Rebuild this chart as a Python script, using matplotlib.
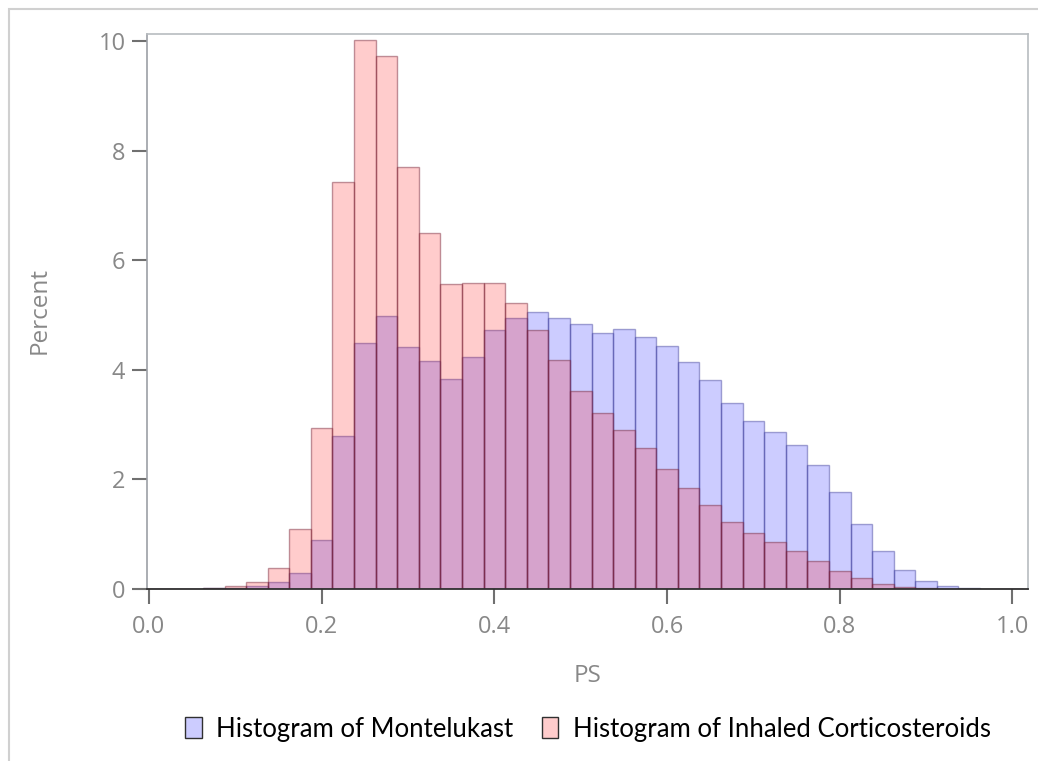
import matplotlib
matplotlib.use('Agg')
import matplotlib.pyplot as plt
from matplotlib.patches import Patch, Rectangle
import numpy as np

# bins of width 0.025, centred at 0, 0.025, ..., 1.0
bin_width = 0.025
bin_centers = np.arange(41) * bin_width

# percent per bin
montelukast = [0, 0, 0.005, 0.01, 0.02, 0.05, 0.12, 0.30, 0.89, 2.79,
               4.49, 4.99, 4.42, 4.16, 3.84, 4.23, 4.72, 4.95, 5.05, 4.95,
               4.83, 4.68, 4.74, 4.60, 4.43, 4.15, 3.82, 3.40, 3.07, 2.87,
               2.63, 2.27, 1.77, 1.18, 0.69, 0.35, 0.15, 0.05, 0.015, 0.005,
               0]
inhaled_cs = [0, 0, 0, 0.02, 0.055, 0.13, 0.39, 1.10, 2.93, 7.43,
              10.03, 9.73, 7.71, 6.50, 5.56, 5.58, 5.58, 5.22, 4.73, 4.18,
              3.62, 3.21, 2.90, 2.58, 2.19, 1.85, 1.53, 1.23, 1.02, 0.86,
              0.69, 0.51, 0.33, 0.20, 0.10, 0.04, 0.015, 0.005, 0, 0,
              0]

x_ticks = [0.0, 0.2, 0.4, 0.6, 0.8, 1.0]
x_ticklabels = ['0.0', '0.2', '0.4', '0.6', '0.8', '1.0']
y_ticks = [0, 2, 4, 6, 8, 10]
labels = ['Histogram of Montelukast', 'Histogram of Inhaled Corticosteroids']

plt.rcParams['font.family'] = ['Open Sans', 'DejaVu Sans']

W, H = 1038, 761
fig = plt.figure(figsize=(W / 100, H / 100), dpi=100)
ax = fig.add_axes([147 / W, 1 - 589 / H, (1028 - 147) / W, (589 - 33.5) / H])

blue_face = (0, 0, 1, 0.2)
blue_edge = (0.25, 0.25, 0.6, 0.45)
red_face = (1, 0, 0, 0.2)
red_edge = (0.45, 0.12, 0.2, 0.45)

ax.bar(bin_centers, montelukast, width=bin_width, color=blue_face,
       edgecolor=blue_edge, linewidth=1.0)
ax.bar(bin_centers, inhaled_cs, width=bin_width, color=red_face,
       edgecolor=red_edge, linewidth=1.0)

ax.set_xlim(-0.0023, 1.018)
ax.set_ylim(0, 10.14)
ax.set_xticks(x_ticks)
ax.set_xticklabels(x_ticklabels)
ax.set_yticks(y_ticks)

for side in ['top', 'right']:
    ax.spines[side].set_color('#b8bcc0')
    ax.spines[side].set_linewidth(1.2)
ax.spines['left'].set_color('#9ca0a6')
ax.spines['left'].set_linewidth(1.2)
ax.spines['bottom'].set_color('#303030')
ax.spines['bottom'].set_linewidth(1.3)

ax.tick_params(axis='both', direction='out', length=10.5, width=1.5,
               color='#707070', labelcolor='#888888', labelsize=17)
ax.tick_params(axis='x', pad=8)
ax.tick_params(axis='y', pad=5)

fig.text(40 / W, 1 - 311 / H, 'Percent', rotation=90, ha='center', va='center',
         fontsize=17.5, color='#888888')
fig.text(588 / W, 1 - 676 / H, 'PS', ha='center', va='center',
         fontsize=17.5, color='#888888')

handles = [Patch(facecolor='#ccccff', edgecolor='#303030', linewidth=1.0),
           Patch(facecolor='#ffcccc', edgecolor='#303030', linewidth=1.0)]
fig.legend(handles, labels, loc='center', bbox_to_anchor=(588 / W, 1 - 729 / H),
           ncol=2, frameon=False, handlelength=0.65, handleheight=0.9,
           handletextpad=0.55, columnspacing=1.1,
           prop={'family': ['Lato', 'DejaVu Sans'], 'size': 18.5})

# light outer border of the screenshot
fig.patches.append(Rectangle((9 / W, -0.01), 1.1, 1 - 9 / H + 0.01,
                             transform=fig.transFigure, fill=False,
                             edgecolor='#d0d0d0', linewidth=1.5))

fig.savefig('out.png', dpi=100)
